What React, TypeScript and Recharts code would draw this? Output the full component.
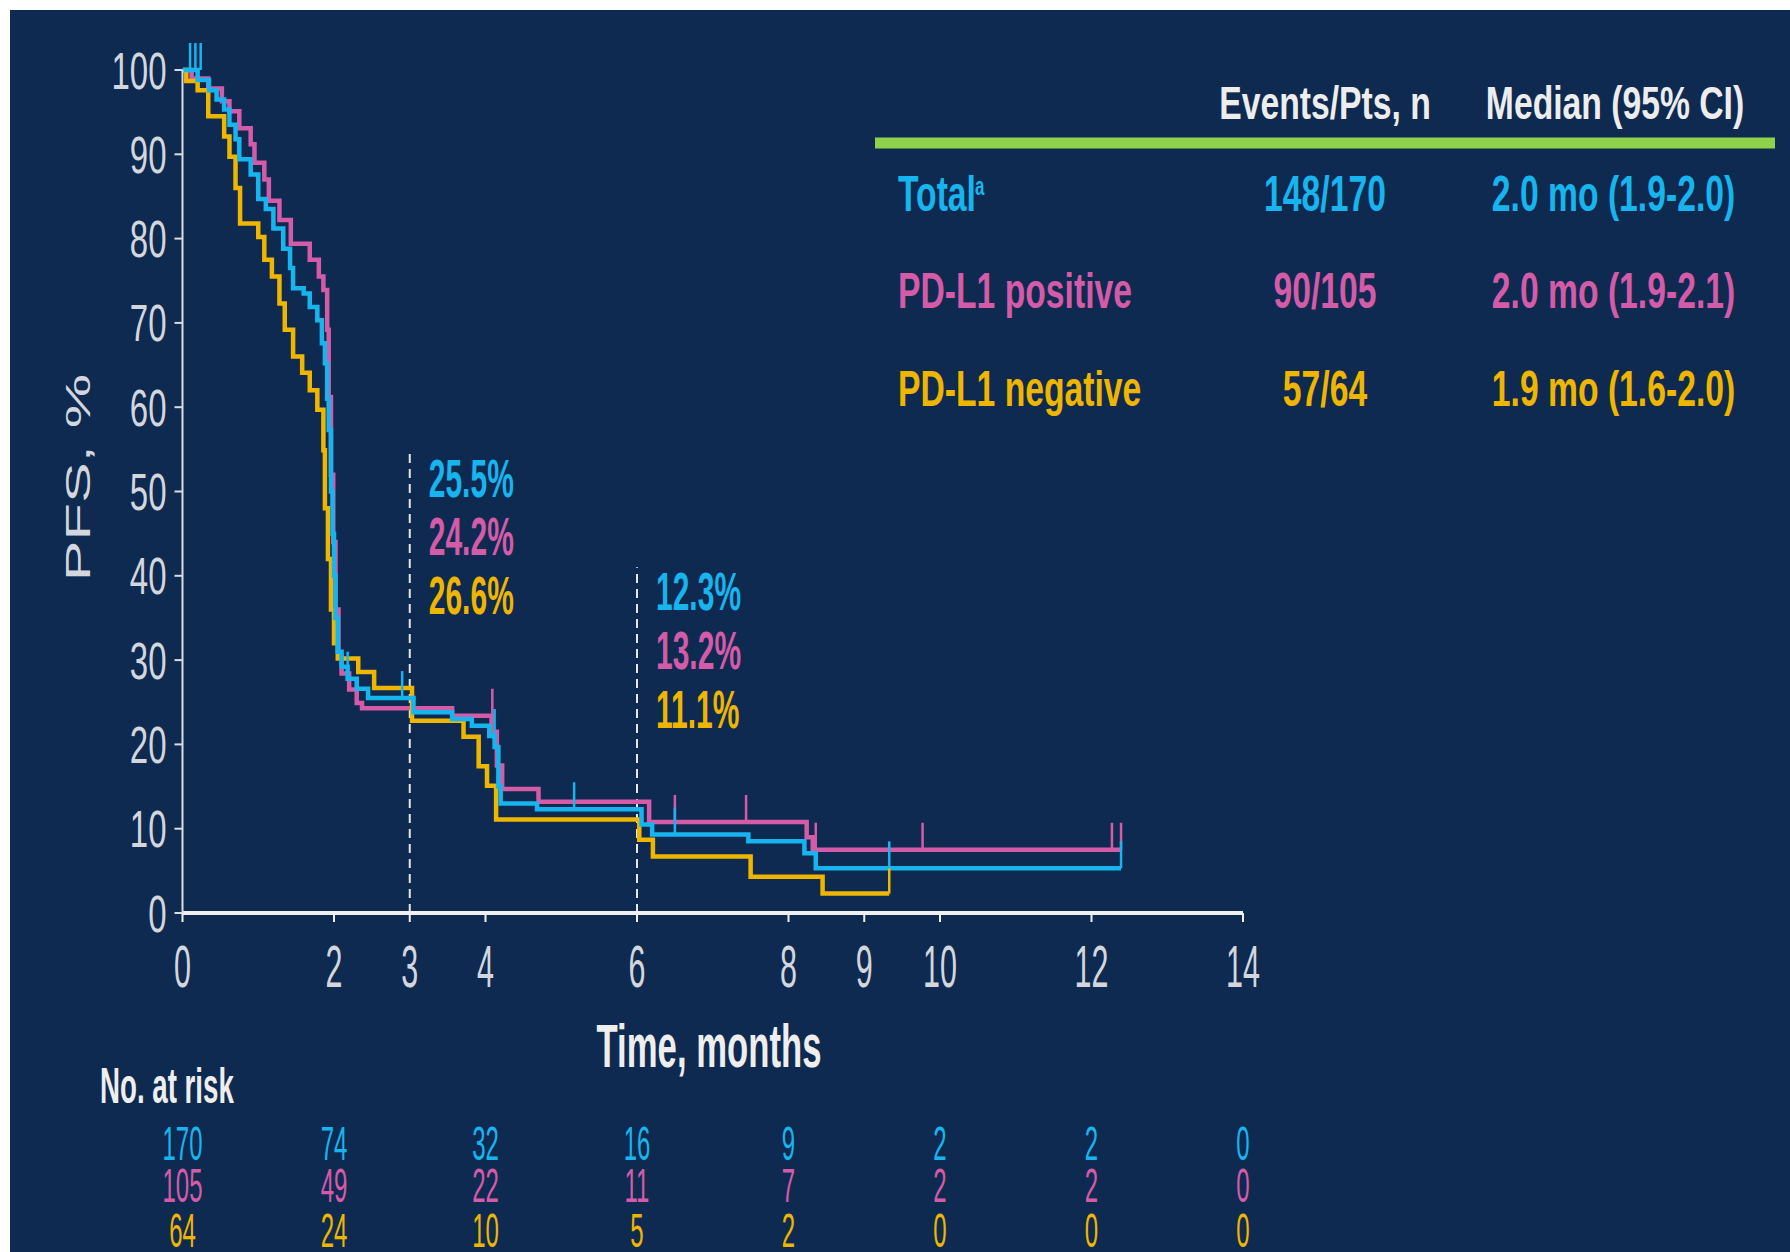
import React from 'react';
import { ComposedChart, Line, XAxis, YAxis, ReferenceLine } from 'recharts';

// ---------- data ----------
const xTicks = [0, 2, 3, 4, 6, 8, 9, 10, 12, 14];
const yTicks = [0, 10, 20, 30, 40, 50, 60, 70, 80, 90, 100];

const totalMonths = [0, 0.2, 0.35, 0.45, 0.55, 0.62, 0.7, 0.75, 0.9, 1.0, 1.1, 1.2, 1.33, 1.42, 1.46, 1.6, 1.68, 1.78, 1.84, 1.88, 1.91, 1.93, 1.96, 1.98, 2.0, 2.02, 2.05, 2.1, 2.18, 2.3, 2.45, 3.05, 3.56, 3.82, 4.05, 4.12, 4.17, 4.2, 4.68, 6.06, 6.2, 7.47, 8.21, 8.36, 12.39];
const totalPfs = [100, 98.8, 97.6, 96.5, 95.3, 93.5, 91.8, 89.4, 87.6, 84.7, 83.5, 81.2, 78.8, 76.5, 74.1, 73.5, 71.9, 70.3, 67.6, 65.2, 61, 57.3, 50, 45, 40, 35, 31, 29.2, 27.8, 26.6, 25.5, 23.8, 23.0, 22.2, 21, 19.7, 15, 13, 12.3, 10.5, 9.3, 8.5, 7.1, 5.3, 5.3];

const posMonths = [0, 0.12, 0.34, 0.52, 0.62, 0.75, 0.9, 0.95, 1.08, 1.14, 1.28, 1.43, 1.68, 1.8, 1.86, 1.91, 1.93, 1.96, 1.99, 2.02, 2.06, 2.1, 2.2, 2.3, 2.37, 3.56, 4.08, 4.15, 4.22, 4.7, 6.16, 8.24, 8.32, 12.39];
const posPfs = [100, 99, 97.8, 96.3, 95.1, 93.1, 91.2, 89, 87, 84.5, 82.2, 79.4, 77.5, 75.5, 73.9, 69.2, 61.2, 52, 44, 36, 30.5, 28.4, 26.5, 24.9, 24.3, 23.4, 21.5, 17.5, 14.7, 13.2, 10.8, 9.0, 7.5, 7.5];

const negMonths = [0, 0.05, 0.2, 0.34, 0.55, 0.62, 0.7, 0.76, 1.0, 1.08, 1.18, 1.28, 1.35, 1.46, 1.58, 1.68, 1.78, 1.86, 1.88, 1.92, 1.96, 2.0, 2.05, 2.32, 2.53, 3.03, 3.71, 3.91, 4.02, 4.14, 6.03, 6.21, 7.5, 8.45, 9.33];
const negPfs = [100, 98.7, 97.6, 94.5, 92.1, 89.7, 86, 81.8, 80.2, 77.5, 75.5, 72.3, 69.2, 66, 64.1, 62, 59.7, 54.9, 48, 42, 36, 32, 30.2, 28.6, 26.7, 22.8, 20.9, 17.4, 15.1, 11.1, 8.7, 6.7, 4.3, 2.3, 2.3];

const totalCensorMonths = [0.1, 0.17, 0.24, 2.18, 2.9, 4.12, 5.17, 6.5, 9.33, 12.39];
const totalCensorPfs = [100, 100, 100, 27.8, 25.5, 21, 12.3, 9.3, 5.3, 5.3];
const posCensorMonths = [4.09, 6.5, 7.44, 8.36, 9.77, 12.27, 12.39];
const posCensorPfs = [23.4, 10.8, 10.8, 7.5, 7.5, 7.5, 7.5];
const negCensorMonths = [9.33];
const negCensorPfs = [2.3];

const landmarkMonths = [3, 6];
const landmark3 = ['25.5%', '24.2%', '26.6%'];
const landmark6 = ['12.3%', '13.2%', '11.1%'];
const landmarkTop = [55, 41];

const riskMonths = [0, 2, 4, 6, 8, 10, 12, 14];
const riskTotal = [170, 74, 32, 16, 9, 2, 2, 0];
const riskPos = [105, 49, 22, 11, 7, 2, 2, 0];
const riskNeg = [64, 24, 10, 5, 2, 0, 0, 0];

const tableHeaders = ['Events/Pts, n', 'Median (95% CI)'];
const tableGroups = ['Total', 'PD-L1 positive', 'PD-L1 negative'];
const tableEvents = ['148/170', '90/105', '57/64'];
const tableMedians = ['2.0 mo (1.9-2.0)', '2.0 mo (1.9-2.1)', '1.9 mo (1.6-2.0)'];

// ---------- style ----------
const W = 1790;
const H = 1252;
const PLOT_LEFT = 182.5;
const PLOT_RIGHT = 1243;
const PLOT_TOP = 70;
const PLOT_BOTTOM = 913;
const X_MAX = 14;
const Y_AXIS_W = 80;
const X_AXIS_H = 60;

const BG = '#0F2A50';
const CYAN = '#17B4EE';
const PINK = '#D45BA8';
const GOLD = '#EFB600';
const GREEN = '#8ED14A';
const AXIS = '#F0F0F0';
const TICKTXT = '#D3D7DD';
const FONT = '"Liberation Sans", Arial, sans-serif';
const seriesColors = [CYAN, PINK, GOLD];

const pts = (ts: number[], vs: number[]) => ts.map((t, i) => ({ t, v: vs[i] }));
const xOf = (t: number) => PLOT_LEFT + (t / X_MAX) * (PLOT_RIGHT - PLOT_LEFT);

function SText(props: any) {
  const { x, y, size, sy, weight = 400, fill, anchor = 'start', rotate, children } = props;
  const tf = `translate(${x},${y}) scale(1,${sy})${rotate ? ` rotate(${rotate})` : ''}`;
  return (
    <text transform={tf} fontSize={size} fontWeight={weight} fill={fill} textAnchor={anchor} fontFamily={FONT}>
      {children}
    </text>
  );
}

const XTick = (props: any) => {
  const { x, payload } = props;
  return <SText x={x} y={PLOT_BOTTOM + 74} size={30.5} sy={1.95} fill={TICKTXT} anchor="middle">{payload.value}</SText>;
};

const YTick = (props: any) => {
  const { y, payload } = props;
  return <SText x={PLOT_LEFT - 16} y={y + 18.5} size={33} sy={1.55} fill={TICKTXT} anchor="end">{payload.value}</SText>;
};

const censorDot = (color: string) => (p: any) => (
  <line key={`c-${color}-${p.index}`} x1={p.cx} x2={p.cx} y1={p.cy} y2={p.cy - 27} stroke={color} strokeWidth={2.5} />
);

export default function App() {
  const series = [
    { key: 'pos', data: pts(posMonths, posPfs), color: PINK },
    { key: 'neg', data: pts(negMonths, negPfs), color: GOLD },
    { key: 'total', data: pts(totalMonths, totalPfs), color: CYAN },
  ];
  const censors = [
    { key: 'cpos', data: pts(posCensorMonths, posCensorPfs), color: PINK },
    { key: 'cneg', data: pts(negCensorMonths, negCensorPfs), color: GOLD },
    { key: 'ctotal', data: pts(totalCensorMonths, totalCensorPfs), color: CYAN },
  ];
  const riskRows = [riskTotal, riskPos, riskNeg];
  const riskBaselines = [1160, 1202, 1247];
  const rowBaselines = [211, 308, 406];
  const g3 = [landmark3, landmark6];
  const g3Base = [496.5, 610];

  return (
    <div style={{ position: 'absolute', left: 0, top: 0, width: W, height: H, background: '#ffffff', overflow: 'hidden' }}>
      <div style={{ position: 'absolute', left: 10, top: 10, width: W - 10, height: H - 10, background: BG }} />
      <div style={{ position: 'absolute', left: 0, top: 0 }}>
        <ComposedChart
          width={W}
          height={H}
          margin={{ top: PLOT_TOP, right: W - PLOT_RIGHT, bottom: H - PLOT_BOTTOM - X_AXIS_H, left: PLOT_LEFT - Y_AXIS_W }}
        >
          <XAxis
            type="number"
            dataKey="t"
            domain={[0, X_MAX]}
            ticks={xTicks}
            interval={0}
            height={X_AXIS_H}
            allowDataOverflow
            axisLine={{ stroke: AXIS, strokeWidth: 4 }}
            tickLine={{ stroke: AXIS, strokeWidth: 2 }}
            tickSize={9}
            tick={<XTick />}
          />
          <YAxis
            type="number"
            dataKey="v"
            domain={[0, 100]}
            ticks={yTicks}
            interval={0}
            width={Y_AXIS_W}
            axisLine={{ stroke: '#D9DCE0', strokeWidth: 2 }}
            tickLine={{ stroke: '#D9DCE0', strokeWidth: 2 }}
            tickSize={8}
            tick={<YTick />}
          />
          {landmarkMonths.map((m, i) => (
            <ReferenceLine
              key={`ref${m}`}
              segment={[{ x: m, y: 0 }, { x: m, y: landmarkTop[i] }]}
              stroke="#E6E6E6"
              strokeWidth={2}
              strokeDasharray="9 6"
            />
          ))}
          {series.map((s) => (
            <Line
              key={s.key}
              data={s.data}
              dataKey="v"
              type="stepAfter"
              stroke={s.color}
              strokeWidth={4.5}
              dot={false}
              activeDot={false}
              isAnimationActive={false}
            />
          ))}
          {censors.map((s) => (
            <Line
              key={s.key}
              data={s.data}
              dataKey="v"
              stroke="none"
              strokeWidth={0}
              dot={censorDot(s.color)}
              activeDot={false}
              isAnimationActive={false}
            />
          ))}
        </ComposedChart>
      </div>
      <svg width={W} height={H} style={{ position: 'absolute', left: 0, top: 0, pointerEvents: 'none' }}>
        {/* Y axis title */}
        <SText x={90} y={477.5} size={35} sy={1.75} rotate={-90} fill={TICKTXT} anchor="middle">PFS, %</SText>
        {/* X axis title */}
        <SText x={709} y={1066.7} size={34.7} sy={1.76} weight={700} fill="#EEEEEE" anchor="middle">Time, months</SText>
        {/* landmark labels */}
        {g3.map((labels, gi) =>
          labels.map((lab, i) => (
            <SText key={`lm${gi}${i}`} x={xOf(landmarkMonths[gi]) + 19} y={g3Base[gi] + i * 58.8} size={30} sy={1.8} weight={700} fill={seriesColors[i]}>
              {lab}
            </SText>
          ))
        )}
        {/* table */}
        <SText x={1325} y={118.5} size={33.7} sy={1.4} weight={700} fill="#EDEDED" anchor="middle">{tableHeaders[0]}</SText>
        <SText x={1615} y={118.5} size={33.7} sy={1.4} weight={700} fill="#EDEDED" anchor="middle">{tableHeaders[1]}</SText>
        <line x1={875} x2={1775} y1={143} y2={143} stroke={GREEN} strokeWidth={11} />
        {tableGroups.map((g, i) => (
          <g key={`row${i}`}>
            <SText x={898} y={rowBaselines[i]} size={33.7} sy={1.5} weight={700} fill={seriesColors[i]}>{g}</SText>
            <SText x={1325} y={rowBaselines[i]} size={33.7} sy={1.5} weight={700} fill={seriesColors[i]} anchor="middle">{tableEvents[i]}</SText>
            <SText x={1613.5} y={rowBaselines[i]} size={33.7} sy={1.5} weight={700} fill={seriesColors[i]} anchor="middle">{tableMedians[i]}</SText>
          </g>
        ))}
        <SText x={975} y={195} size={17} sy={1.5} weight={700} fill={CYAN}>a</SText>
        {/* number at risk */}
        <SText x={100} y={1103} size={27.7} sy={1.77} weight={700} fill="#EEEEEE">No. at risk</SText>
        {riskRows.map((row, ri) =>
          row.map((n, i) => (
            <SText key={`r${ri}-${i}`} x={xOf(riskMonths[i])} y={riskBaselines[ri]} size={24} sy={2.0} fill={seriesColors[ri]} anchor="middle">
              {n}
            </SText>
          ))
        )}
      </svg>
    </div>
  );
}
